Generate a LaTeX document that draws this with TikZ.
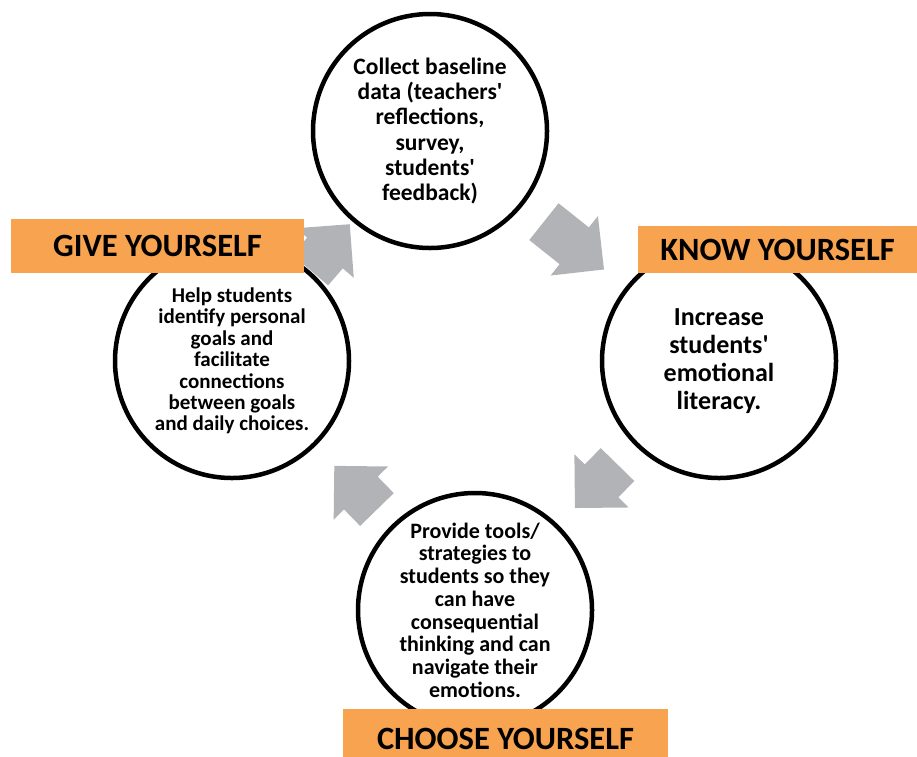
\documentclass[tikz,border=0pt]{standalone}
\usepackage{fontspec}
\setmainfont{Carlito}
\usetikzlibrary{calc}
\definecolor{boxorange}{HTML}{F8A34F}
\definecolor{arrowgray}{HTML}{B1B3B6}
\newcommand{\apos}{\textquotesingle}
% block arrow between two stages: from, to, gap at start, gap at end
\newcommand{\flowarrow}[4]{%
	\coordinate (tail) at ($(#1.center)!#3!(#2.center)$);
	\coordinate (tip) at ($(#2.center)!#4!(#1.center)$);
	\coordinate (base) at ($(tip)!38pt!(tail)$);
	\fill[arrowgray] ($(tail)!23.5pt!90:(tip)$) -- ($(base)!23.5pt!90:(tip)$) -- ($(base)!38pt!90:(tip)$)
		-- (tip) -- ($(base)!38pt!-90:(tip)$) -- ($(base)!23.5pt!-90:(tip)$) -- ($(tail)!23.5pt!-90:(tip)$) -- cycle;}
\begin{document}
\begin{tikzpicture}[x=1pt, y=-1pt, line join=round,
	stage/.style={circle, draw, line width=4.5pt, fill=white, minimum size=234pt, inner sep=0pt, align=center, font=\bfseries},
	banner/.style={fill=boxorange, inner sep=0pt, font=\bfseries\fontsize{32.5}{38}\selectfont}]
	\useasboundingbox (0,0) rectangle (917,756);
	\node[stage, font=\bfseries\fontsize{23.5}{25.1}\selectfont] (collect) at (430,131)
		{Collect baseline\\data (teachers\apos\\reflections,\\survey,\\students\apos\\feedback)};
	\node[stage, font=\bfseries\fontsize{26}{27.8}\selectfont] (increase) at (719,361)
		{Increase\\students\apos\\emotional\\literacy.};
	\node[stage, font=\bfseries\fontsize{22}{22.7}\selectfont] (provide) at (475,610)
		{Provide tools/\\strategies to\\students so they\\can have\\consequential\\thinking and can\\navigate their\\emotions.};
	\node[stage, font=\bfseries\fontsize{21}{21.4}\selectfont] (help) at (232,361)
		{Help students\\identify personal\\goals and\\facilitate\\connections\\between goals\\and daily choices.};
	\flowarrow{collect}{increase}{145.6pt}{147pt}
	\flowarrow{increase}{provide}{145pt}{142.8pt}
	\flowarrow{provide}{help}{140.4pt}{146.5pt}
	\flowarrow{help}{collect}{120pt}{123pt}
	\node[banner, minimum width=293pt, minimum height=54pt] (give) at (157.5,246) {GIVE YOURSELF};
	\node[banner, minimum width=279pt, minimum height=47pt] (know) at (777.5,249.5) {KNOW YOURSELF};
	\begin{scope}
		\clip (0,0) rectangle (917,756);
		\node[banner, minimum width=325pt, minimum height=60pt] (choose) at (505.5,739) {CHOOSE YOURSELF};
	\end{scope}
\end{tikzpicture}
\end{document}
